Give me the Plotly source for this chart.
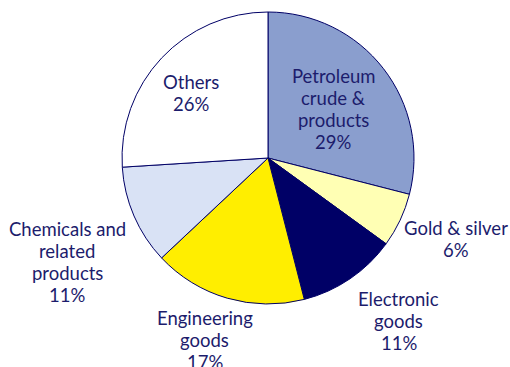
import math
import plotly.graph_objects as go

# Export composition by commodity group (%)
categories = ["Petroleum<br>crude &<br>products", "Gold & silver", "Electronic<br>goods",
              "Engineering<br>goods", "Chemicals and<br>related<br>products", "Others"]
shares = [29, 6, 11, 17, 11, 26]
colors = ["#8a9ece", "#ffffb4", "#000066", "#ffee00", "#d9e2f5", "#ffffff"]

# label placement: radial distance (fraction of radius) and angular nudge (deg)
label_radius = [0.56, 1.40, 1.43, 1.32, 1.55, 0.69]
label_nudge = [1, -2, -4.5, 3, -4, -3]

W, H = 510, 367
cx, cy, R = 268, 158, 146
TEXT = "#1c1c6c"
LINE_GAP = 22

fig = go.Figure(go.Pie(
    labels=[c.replace("<br>", " ") for c in categories],
    values=shares,
    sort=False,
    direction="clockwise",
    rotation=0,
    marker=dict(colors=colors, line=dict(color="#000066", width=1)),
    textinfo="none",
    hoverinfo="label+percent",
    domain=dict(x=[(cx - R) / W, (cx + R) / W],
                y=[(H - cy - R) / H, (H - cy + R) / H]),
))

total = sum(shares)
start = 0.0
annotations = []
for name, v, rf, nd in zip(categories, shares, label_radius, label_nudge):
    mid = start + v / total * 360 / 2 + nd
    start += v / total * 360
    a = math.radians(mid)
    x = cx + rf * R * math.sin(a)
    y = cy - rf * R * math.cos(a)
    lines = name.split("<br>") + [f"{v}%"]
    top = y - (len(lines) - 1) * LINE_GAP / 2
    for i, line in enumerate(lines):
        ly = top + i * LINE_GAP
        annotations.append(dict(
            x=x / W, y=1 - ly / H, xref="paper", yref="paper",
            text=line, showarrow=False,
            xanchor="center", yanchor="middle",
            font=dict(family="Lato", size=18.5, color=TEXT),
        ))

fig.update_layout(
    width=W, height=H,
    margin=dict(l=0, r=0, t=0, b=0),
    paper_bgcolor="white",
    showlegend=False,
    annotations=annotations,
)

fig.write_html("out.html")
